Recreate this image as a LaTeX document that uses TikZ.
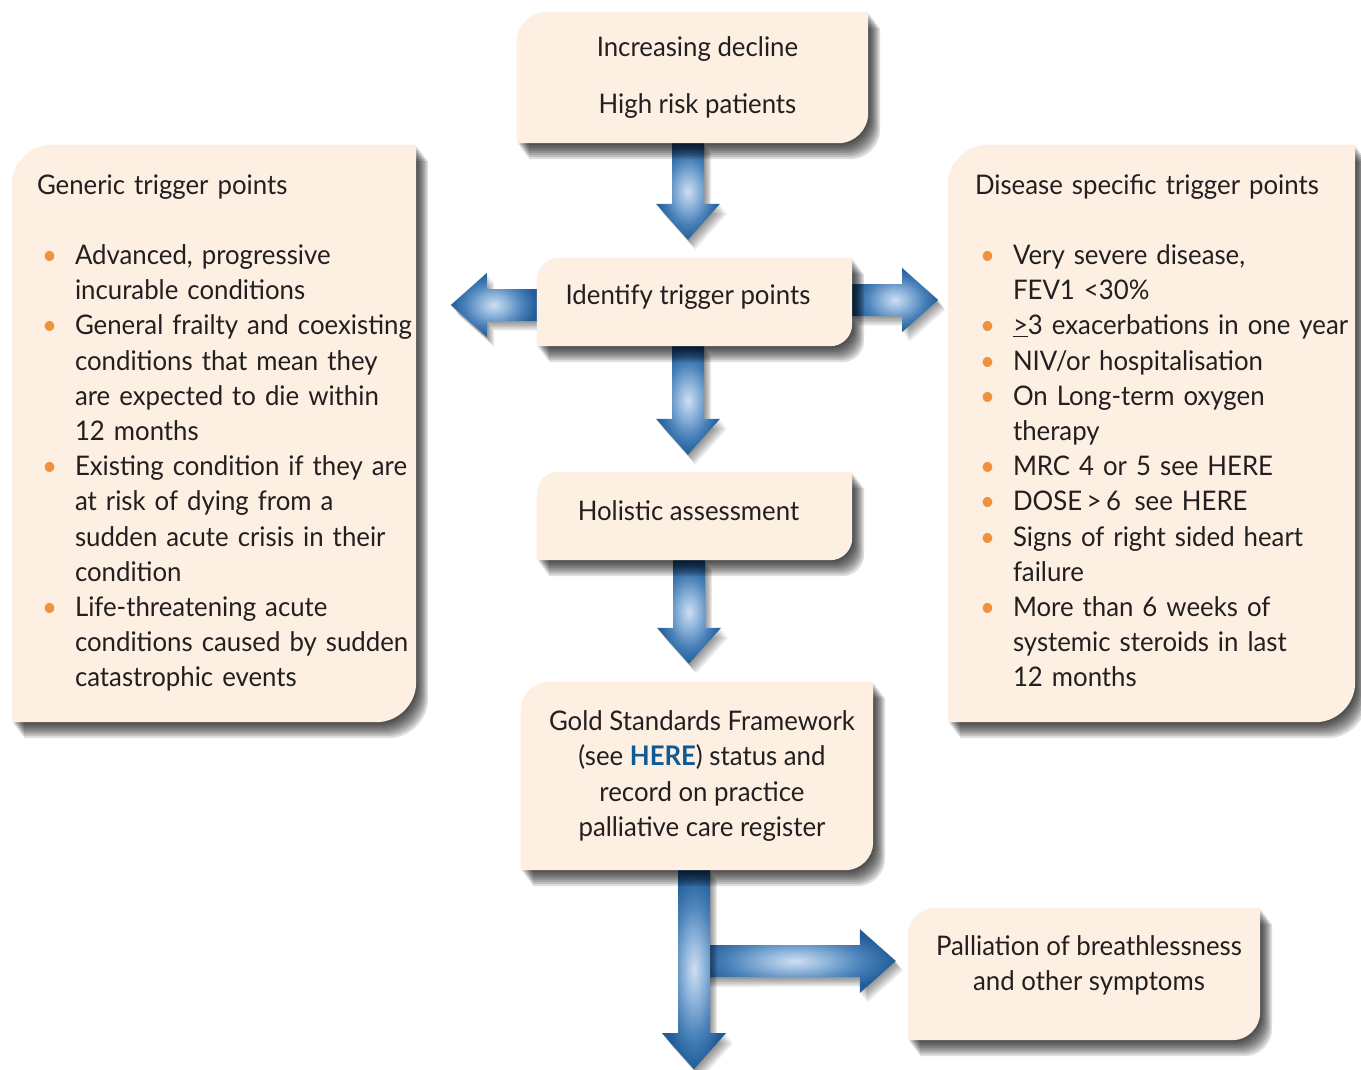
\documentclass[tikz,border=0pt]{standalone}
\usepackage{fontspec}
\setmainfont{Lato}[FakeStretch=0.955]
\usepackage{xcolor}
\usepackage{tikz}
\usetikzlibrary{calc,backgrounds,positioning}

\definecolor{panelfill}{RGB}{253,239,226}
\definecolor{inktext}{RGB}{35,31,32}
\definecolor{dotorange}{RGB}{240,145,60}
\definecolor{herelink}{RGB}{14,90,150}
\definecolor{arrowlight}{RGB}{208,222,240}
\definecolor{arrowpale}{RGB}{150,186,222}
\definecolor{arrowmid}{RGB}{72,128,184}
\definecolor{arrowdark}{RGB}{34,93,152}

\pgfdeclareradialshading{blockarrow}{\pgfpoint{0bp}{0bp}}{%
  color(0bp)=(arrowlight); color(7bp)=(arrowpale); color(17bp)=(arrowmid);
  color(25bp)=(arrowdark); color(50bp)=(arrowdark)}

% box with round top left and bottom right corner
\newcommand\panelpath[2]{(#1.south west) -- ($(#1.north west)+(0,#2)$)
  .. controls ($(#1.north west)+(0,{0.45*#2})$) and ($(#1.north west)+({0.45*#2},0)$) .. ($(#1.north west)+(#2,0)$)
  -- (#1.north east) -- ($(#1.south east)+(0,-#2)$)
  .. controls ($(#1.south east)+(0,{-0.45*#2})$) and ($(#1.south east)+({-0.45*#2},0)$) .. ($(#1.south east)+(-#2,0)$)
  -- cycle}
\newcommand\panelbox[2]{%
  \foreach \s in {1,...,8}{\fill[black, opacity=0.13, transform canvas={shift={({1.5*\s},{2*\s})}}] \panelpath{#1}{#2};}
  \fill[panelfill] \panelpath{#1}{#2};}

% fat arrow from #1 to #2
\newcommand\blockpath[2]{($(#1)!16pt!-90:(#2)$) -- ($(#2)!36pt!(#1)!16pt!90:(#1)$)
  -- ($(#2)!36pt!(#1)!32pt!90:(#1)$) -- (#2) -- ($(#2)!36pt!(#1)!32pt!-90:(#1)$)
  -- ($(#2)!36pt!(#1)!16pt!-90:(#1)$) -- ($(#1)!16pt!90:(#2)$) -- cycle}
\newcommand\blockarrow[2]{%
  \foreach \s in {1,...,6}{\fill[black, opacity=0.08, transform canvas={shift={({1.2*\s},{1.6*\s})}}] \blockpath{#1}{#2};}
  \shade[shading=blockarrow] \blockpath{#1}{#2};}

\newcommand\bi{\makebox[38pt][l]{\hspace*{5pt}\textcolor{dotorange}{\textbullet}}}
\newcommand\bc{\hspace*{38pt}}

\begin{document}
\begin{tikzpicture}
  [
    x=1pt, y=-1pt,
    Panel/.style={rectangle, inner sep=0pt, text=inktext, font=\fontsize{27}{35.2}\selectfont, align=center},
    ListPanel/.style={Panel, align=left}
  ]
  \useasboundingbox (0,0) rectangle (1361,1070);

  % Nodes (x, y)
  \node[Panel, minimum width=351, minimum height=131] (top) at(692.5, 77.5)
    {\hspace*{10pt}Increasing decline\\[21.8pt]\hspace*{10pt}High risk patients};
  \node[Panel, minimum width=315, minimum height=88] (ident) at(694.5, 302)
    {Identify trigger points\hspace*{13pt}\rule[-15pt]{0pt}{15pt}};
  \node[Panel, minimum width=315, minimum height=88] (holistic) at(694.5, 516)
    {Holistic assessment\hspace*{12pt}\rule[-10pt]{0pt}{10pt}};
  \node[Panel, minimum width=352, minimum height=188] (gold) at(697, 776)
    {\hspace*{10pt}Gold Standards Framework\\
     \hspace*{10pt}(see \textbf{\textcolor{herelink}{HERE}}) status and\\
     \hspace*{10pt}record on practice\\
     \hspace*{10pt}palliative care register};
  \node[Panel, minimum width=352, minimum height=132] (pall) at(1084, 974)
    {\hspace*{10pt}Palliation of breathlessness\\
     \hspace*{10pt}and other symptoms\rule[-22pt]{0pt}{22pt}};

  \node[ListPanel, minimum width=404, minimum height=577, text width=400] (generic) at(214, 433.5)
    {\hspace*{23pt}\begin{tabular}{@{}l@{}}
     Generic trigger points\\[35.2pt]
     \bi Advanced, progressive\\
     \bc incurable conditions\\
     \bi General frailty and coexisting\\
     \bc conditions that mean they\\
     \bc are expected to die within\\
     \bc 12 months\\
     \bi Existing condition if they are\\
     \bc at risk of dying from a\\
     \bc sudden acute crisis in their\\
     \bc condition\\
     \bi Life-threatening acute\\
     \bc conditions caused by sudden\\
     \bc catastrophic events
     \end{tabular}};
  \node[ListPanel, minimum width=407, minimum height=577, text width=403] (disease) at(1151.5, 433.5)
    {\hspace*{25pt}\begin{tabular}{@{}l@{}}
     Disease specific trigger points\\[35.2pt]
     \bi Very severe disease,\\
     \bc FEV1 <30\%\\
     \bi \underline{>}3 exacerbations in one year\\
     \bi NIV/or hospitalisation\\
     \bi On Long-term oxygen\\
     \bc therapy\\
     \bi MRC 4 or 5 see HERE\\
     \bi DOSE\,>\,6\enspace see HERE\\
     \bi Signs of right sided heart\\
     \bc failure\\
     \bi More than 6 weeks of\\
     \bc systemic steroids in last\\
     \bc 12 months
     \end{tabular}};

  % arrow ends
  \coordinate (s1) at ($(top.south)+(-4.5,0)$);
  \coordinate (e1) at ($(ident.north)+(-6.5,-18)$);
  \coordinate (s2) at ($(ident.west)+(0,3)$);
  \coordinate (e2) at ($(ident.west)+(-86,3)$);
  \coordinate (s3) at ($(ident.east)+(0,-2)$);
  \coordinate (e3) at ($(ident.east)+(86,-2)$);
  \coordinate (s4) at ($(ident.south)+(-6.5,0)$);
  \coordinate (e4) at ($(holistic.north)+(-6.5,-17)$);
  \coordinate (s5) at ($(holistic.south)+(-5.5,0)$);
  \coordinate (e5) at ($(gold.north)+(-8,-18)$);
  \coordinate (s6) at ($(gold.south)+(-3,0)$);
  \coordinate (exit) at ($(gold.south)+(-3,199)$);
  \coordinate (s7) at ($(gold.south)+(-3,91)$);
  \coordinate (e7) at ($(pall.west)+(-12,-13)$);

  \begin{scope}[on background layer]
    \fill[white] (0,0) rectangle (1361,1070);
    % Lines
    % top -> identify
    \blockarrow{s1}{e1}
    % identify -> generic
    \blockarrow{s2}{e2}
    % identify -> disease specific
    \blockarrow{s3}{e3}
    % identify -> holistic
    \blockarrow{s4}{e4}
    % holistic -> gold
    \blockarrow{s5}{e5}
    % branch -> palliation
    \blockarrow{s7}{e7}
    % gold -> down
    \blockarrow{s6}{exit}
    % Boxes
    \panelbox{top}{30}
    \panelbox{ident}{22}
    \panelbox{holistic}{22}
    \panelbox{gold}{28}
    \panelbox{pall}{28}
    \panelbox{generic}{40}
    \panelbox{disease}{40}
  \end{scope}
\end{tikzpicture}
\end{document}
